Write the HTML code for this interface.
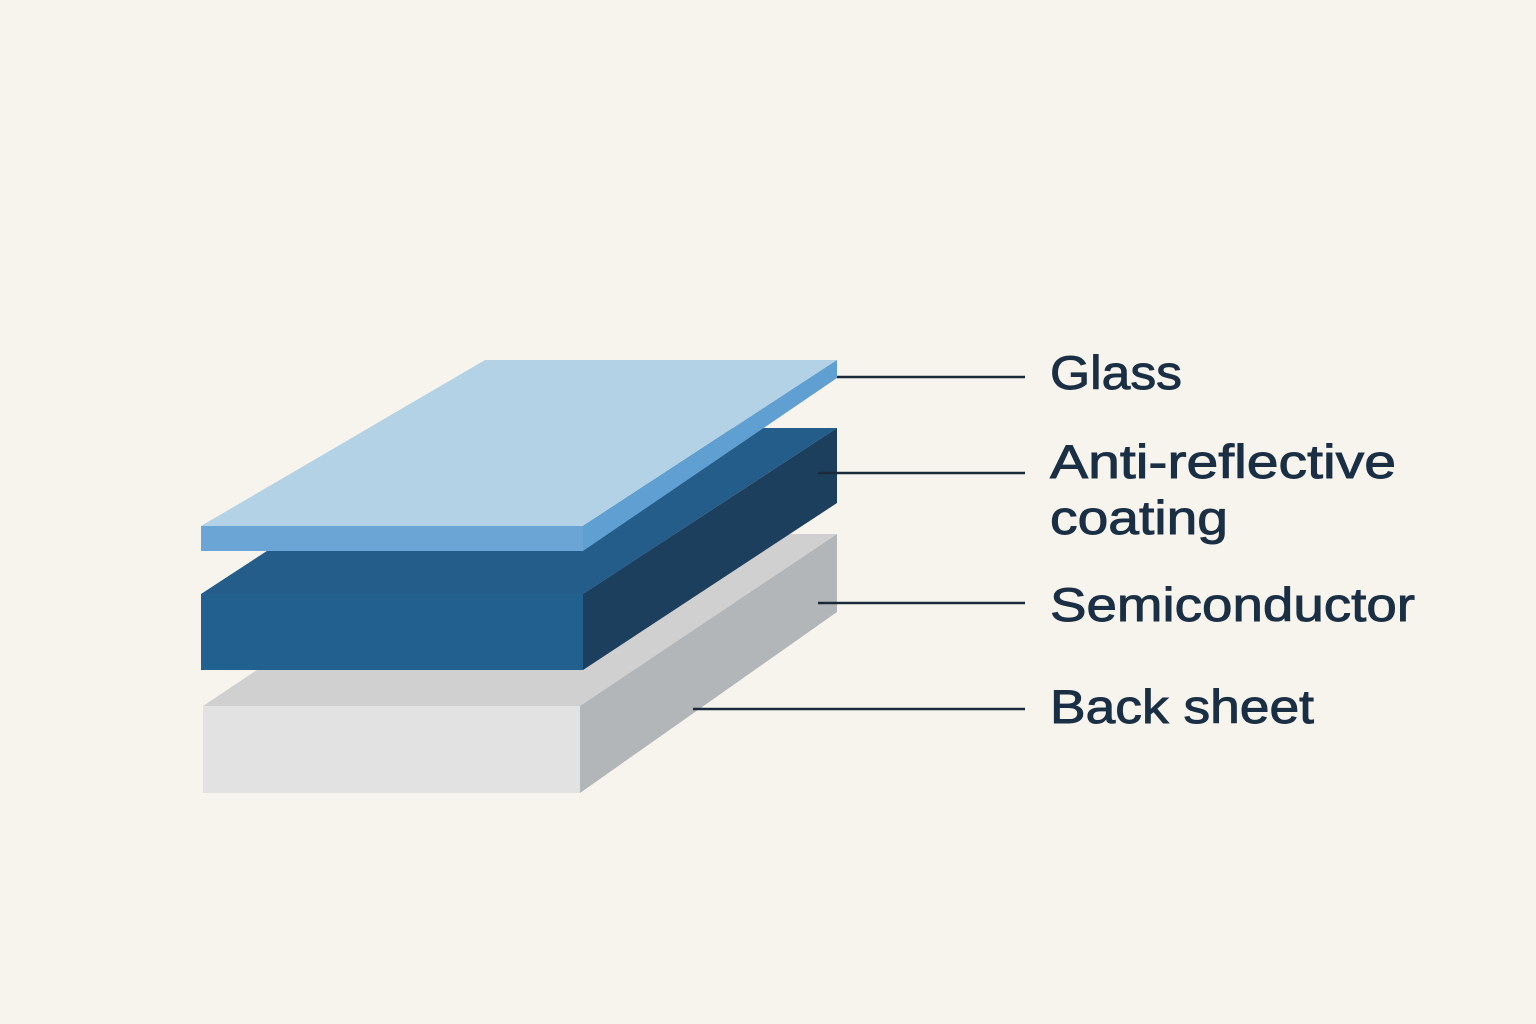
<!DOCTYPE html>
<html><head><meta charset="utf-8"><style>
html,body{margin:0;padding:0;background:#f7f4ee;}
svg{display:block}
text{font-family:"Liberation Sans",sans-serif;font-size:47px;fill:#1a2e44;stroke:#1a2e44;stroke-width:0.9px;}
</style></head><body>
<svg width="1536" height="1024" viewBox="0 0 1536 1024" xmlns="http://www.w3.org/2000/svg">
<rect width="1536" height="1024" fill="#f7f4ee"/>
<polygon points="203,706 580,706 837,534 460,534" fill="#d0d0d0"/>
<polygon points="203,706 580,706 580,793 203,793" fill="#e2e2e2"/>
<polygon points="580,706 837,534 837,612 580,793" fill="#b3b6b8"/>
<polygon points="201,594 583,594 837,428 455,428" fill="#245d8a"/>
<polygon points="201,594 583,594 583,670 201,670" fill="#22618f"/>
<polygon points="583,594 837,428 837,503 583,670" fill="#1c3f5e"/>
<polygon points="485,360 837,360 583,526 201,526" fill="#b3d2e5"/>
<polygon points="201,526 583,526 583,551 201,551" fill="#6aa5d6"/>
<polygon points="583,526 837,360 837,378 583,551" fill="#5f9fd2"/>
<g stroke="#1a2a3a" stroke-width="2.5">
<line x1="837" y1="377" x2="1025" y2="377"/>
<line x1="818" y1="473" x2="1025" y2="473"/>
<line x1="818" y1="603" x2="1025" y2="603"/>
<line x1="693" y1="709" x2="1025" y2="709"/>
</g>
<text x="1050" y="389" textLength="132" lengthAdjust="spacingAndGlyphs">Glass</text>
<text x="1050" y="478" textLength="346" lengthAdjust="spacingAndGlyphs">Anti-reflective</text>
<text x="1050" y="534" textLength="178" lengthAdjust="spacingAndGlyphs">coating</text>
<text x="1050" y="621" textLength="365" lengthAdjust="spacingAndGlyphs">Semiconductor</text>
<text x="1050" y="723" textLength="264" lengthAdjust="spacingAndGlyphs">Back sheet</text>
</svg>
</body></html>
